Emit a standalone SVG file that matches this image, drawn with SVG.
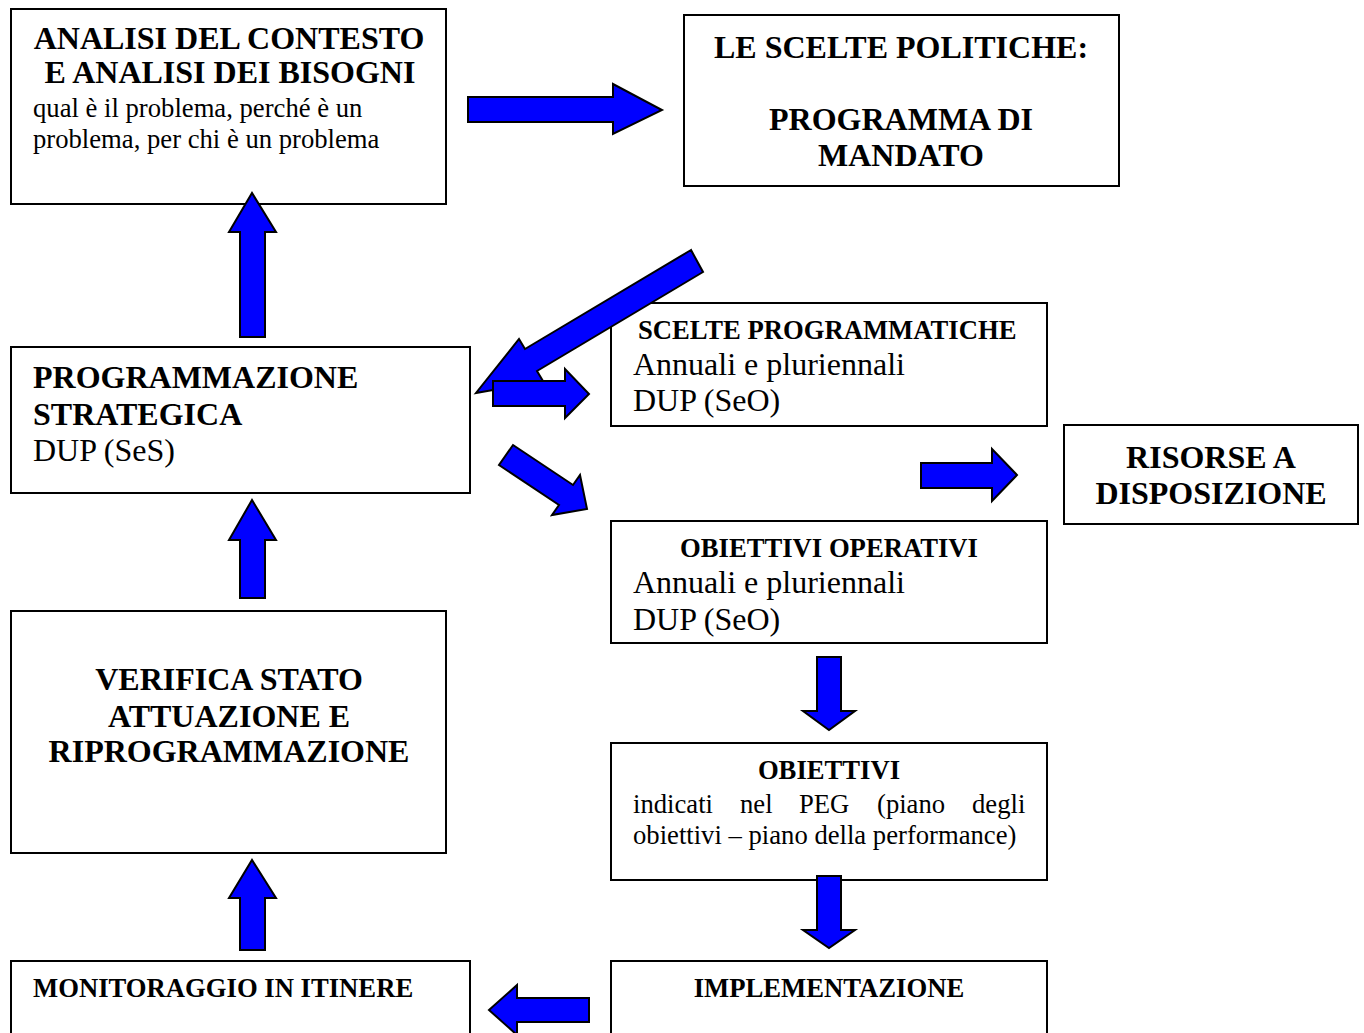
<svg xmlns="http://www.w3.org/2000/svg" width="1364" height="1033" viewBox="0 0 1364 1033">
<style>
.box{fill:#fff;stroke:#000;stroke-width:2}
.arrow{fill:#0000ff;stroke:#000;stroke-width:2;stroke-linejoin:miter}
text{font-family:"Liberation Serif","Times New Roman",serif;fill:#000}
.h{font-weight:bold;font-size:32px}
.hs{font-weight:bold;font-size:26.67px}
.b{font-size:26.67px}
.bl{font-size:32px}
.c{text-anchor:middle}
</style>
<rect width="1364" height="1033" fill="#fff"/>
<g id="analisi">
<rect class="box" x="11" y="9" width="435" height="195"/>
<text class="h c" x="229" y="49">ANALISI DEL CONTESTO</text>
<text class="h c" x="230" y="83">E ANALISI DEI BISOGNI</text>
<text class="b" x="33" y="117">qual è il problema, perché è un</text>
<text class="b" x="33" y="148">problema, per chi è un problema</text>
</g>
<g id="scelte-politiche">
<rect class="box" x="684" y="15" width="435" height="171"/>
<text class="h c" x="901" y="58">LE SCELTE POLITICHE:</text>
<text class="h c" x="901" y="130">PROGRAMMA DI</text>
<text class="h c" x="901" y="166">MANDATO</text>
</g>
<g id="programmazione-strategica">
<rect class="box" x="11" y="347" width="459" height="146"/>
<text class="h" x="33" y="388">PROGRAMMAZIONE</text>
<text class="h" x="33" y="425">STRATEGICA</text>
<text class="bl" x="33" y="461">DUP (SeS)</text>
</g>
<g id="scelte-programmatiche">
<rect class="box" x="611" y="303" width="436" height="123"/>
<text class="hs" x="638" y="339">SCELTE PROGRAMMATICHE</text>
<text class="bl" x="633" y="375">Annuali e pluriennali</text>
<text class="bl" x="633" y="411">DUP (SeO)</text>
</g>
<g id="risorse">
<rect class="box" x="1064" y="425" width="294" height="99"/>
<text class="h c" x="1211" y="468">RISORSE A</text>
<text class="h c" x="1211" y="504">DISPOSIZIONE</text>
</g>
<g id="obiettivi-operativi">
<rect class="box" x="611" y="521" width="436" height="122"/>
<text class="hs c" x="829" y="557">OBIETTIVI OPERATIVI</text>
<text class="bl" x="633" y="593">Annuali e pluriennali</text>
<text class="bl" x="633" y="630">DUP (SeO)</text>
</g>
<g id="obiettivi">
<rect class="box" x="611" y="743" width="436" height="137"/>
<text class="hs c" x="829" y="779">OBIETTIVI</text>
<text class="b" y="813"><tspan x="633">indicati</tspan><tspan x="740">nel</tspan><tspan x="799">PEG</tspan><tspan x="877">(piano</tspan><tspan x="972">degli</tspan></text>
<text class="b" x="633" y="844">obiettivi – piano della performance)</text>
</g>
<g id="verifica">
<rect class="box" x="11" y="611" width="435" height="242"/>
<text class="h c" x="229" y="690">VERIFICA STATO</text>
<text class="h c" x="229" y="727">ATTUAZIONE E</text>
<text class="h c" x="229" y="762">RIPROGRAMMAZIONE</text>
</g>
<g id="monitoraggio">
<rect class="box" x="11" y="961" width="459" height="90"/>
<text class="hs" x="33" y="997">MONITORAGGIO IN ITINERE</text>
</g>
<g id="implementazione">
<rect class="box" x="611" y="961" width="436" height="90"/>
<text class="hs c" x="829" y="997">IMPLEMENTAZIONE</text>
</g>
<g id="connectors">
<polygon class="arrow" points="468,97 613,97 613,84 662,110 613,134 613,122 468,122"/>
<polygon class="arrow" points="240,337 240,232 229,232 252,193 276,232 265,232 265,337"/>
<polygon class="arrow" points="240,598 240,540 229,540 252,500 276,540 265,540 265,598"/>
<polygon class="arrow" points="240,950 240,898 229,898 252,860 276,898 265,898 265,950"/>
<polygon class="arrow" points="691,250 525,349 519,339 476,393 543,381 537,371 703,272"/>
<polygon class="arrow" points="493,381 565,381 565,369 589,394 565,418 565,406 493,406"/>
<polygon class="arrow" points="513,445 573,485 580,475 587,509 552,515 559,505 499,465"/>
<polygon class="arrow" points="921,463 992,463 992,449 1017,475 992,501 992,488 921,488"/>
<polygon class="arrow" points="817,657 841,657 841,711 855,711 829,730 803,711 817,711"/>
<polygon class="arrow" points="817,876 841,876 841,930 855,930 829,948 803,930 817,930"/>
<polygon class="arrow" points="589,998 517,998 517,985 489,1010 517,1035 517,1022 589,1022"/>
</g>
</svg>
